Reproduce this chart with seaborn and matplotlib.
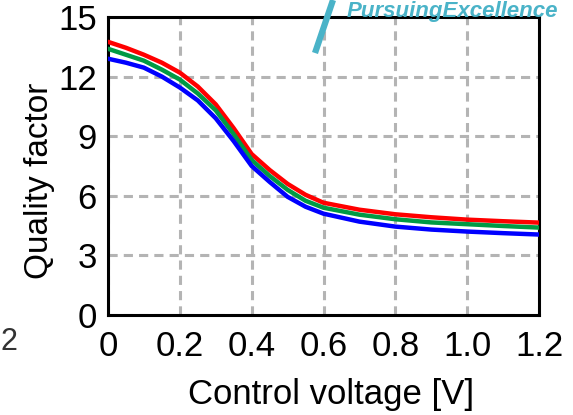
import numpy as np
import pandas as pd
import matplotlib
matplotlib.use("Agg")
import matplotlib.pyplot as plt
import seaborn as sns
from matplotlib.lines import Line2D

voltage = [0.0, 0.05, 0.1, 0.15, 0.2, 0.25, 0.3, 0.35, 0.4, 0.45, 0.5, 0.55, 0.6, 0.7, 0.8, 0.9, 1.0, 1.1, 1.2]
q_red   = [13.75, 13.45, 13.1, 12.7, 12.2, 11.5, 10.6, 9.4, 8.1, 7.3, 6.6, 6.05, 5.65, 5.3, 5.07, 4.92, 4.8, 4.72, 4.65]
q_green = [13.4, 13.1, 12.8, 12.35, 11.85, 11.15, 10.3, 9.1, 7.8, 7.0, 6.3, 5.75, 5.4, 5.05, 4.82, 4.66, 4.57, 4.48, 4.4]
q_blue  = [12.9, 12.7, 12.45, 12.0, 11.45, 10.8, 9.9, 8.75, 7.5, 6.7, 5.95, 5.45, 5.1, 4.7, 4.45, 4.3, 4.2, 4.12, 4.05]
series_names = ["red", "green", "blue"]
colors = ["#ff0000", "#009a44", "#0000ff"]
x_ticks = [0, 0.2, 0.4, 0.6, 0.8, 1.0, 1.2]
x_ticklabels = ["0", "0.2", "0.4", "0.6", "0.8", "1.0", "1.2"]
y_ticks = [0, 3, 6, 9, 12, 15]

df = pd.DataFrame({
    "Control voltage [V]": voltage * 3,
    "Quality factor": q_red + q_green + q_blue,
    "series": [s for s in series_names for _ in voltage],
})

sns.set_theme(style="white")
plt.rcParams["font.family"] = ["Liberation Sans", "DejaVu Sans"]

W, H = 573, 415
fig = plt.figure(figsize=(W / 100, H / 100), dpi=100)
ax_l, ax_r, ax_t, ax_b = 108, 539, 17, 315
ax = fig.add_axes([ax_l / W, 1 - ax_b / H, (ax_r - ax_l) / W, (ax_b - ax_t) / H])

sns.lineplot(data=df, x="Control voltage [V]", y="Quality factor", hue="series",
             palette=dict(zip(series_names, colors)), linewidth=3.2, legend=False,
             ax=ax, zorder=3)

ax.set_xlim(0, 1.2)
ax.set_ylim(0, 15)
ax.set_xticks(x_ticks)
ax.set_xticklabels(x_ticklabels)
ax.set_yticks(y_ticks)
ax.tick_params(axis="both", length=0, labelsize=25, colors="black")
ax.tick_params(axis="x", pad=11)
ax.tick_params(axis="y", pad=8)
ax.grid(True, color="#b4b4b4", linestyle=(0, (3, 2.0)), linewidth=2.2, zorder=1)
for s in ax.spines.values():
    s.set_visible(True)
    s.set_color("black")
    s.set_linewidth(2.2)
ax.set_xlabel("Control voltage [V]", fontsize=25, color="black")
ax.set_ylabel("Quality factor", fontsize=24, color="black")
ax.xaxis.set_label_coords((331 - ax_l) / (ax_r - ax_l), (ax_b - 378) / (ax_b - ax_t))
ax.yaxis.set_label_coords((55 - ax_l) / (ax_r - ax_l), (ax_b - 181) / (ax_b - ax_t))

# background artifacts from the source image
fig.text(347 / W, 1 - 17 / H, "PursuingExcellence", color="#4ab3c8", fontsize=16,
         fontstyle="italic", fontweight="bold", ha="left", va="baseline")
fig.add_artist(Line2D([315 / W, 333 / W], [1 - 53 / H, 1.0], transform=fig.transFigure,
                      color="#4ab3c8", linewidth=4.5, solid_capstyle="butt"))
fig.text(1 / W, 1 - 342 / H, "2", color="#333333", fontsize=22, ha="left", va="center")

fig.savefig("out.png", dpi=100)
